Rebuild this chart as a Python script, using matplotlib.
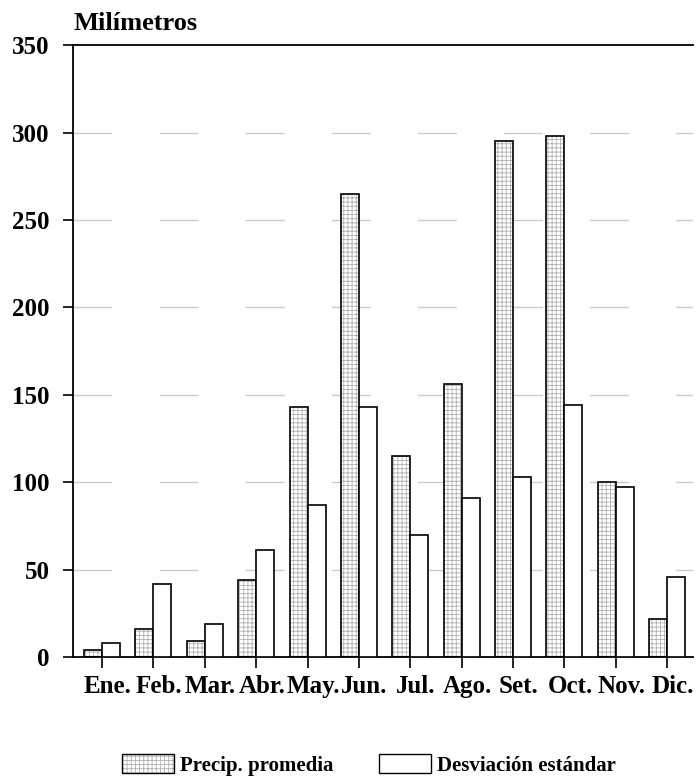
import matplotlib
matplotlib.use("Agg")
import matplotlib.pyplot as plt
import matplotlib.transforms as mtransforms
from matplotlib.patches import Patch
from matplotlib.legend_handler import HandlerTuple
import numpy as np

# data
months = ["Ene.", "Feb.", "Mar.", "Abr.", "May.", "Jun.", "Jul.", "Ago.", "Set.", "Oct.", "Nov.", "Dic."]
precip = [4, 16, 9, 44, 143, 265, 115, 156, 295, 298, 100, 22]
desv = [8, 42, 19, 61, 87, 143, 70, 91, 103, 144, 97, 46]
yticks = [0, 50, 100, 150, 200, 250, 300, 350]

plt.rcParams["font.family"] = ["Liberation Serif", "DejaVu Serif"]
plt.rcParams["font.weight"] = "bold"
plt.rcParams["hatch.linewidth"] = 0.6

fig = plt.figure(figsize=(6.96, 7.78), dpi=100)
ax = fig.add_axes([0.105, 0.1555, 0.891, 0.7865])

x = np.arange(len(months))
w = 0.35

# faint dashed grid like the scan
for v in yticks[1:-1]:
    ax.axhline(v, color="#cccccc", lw=1.0, linestyle=(0, (28, 34)), zorder=0)

# shaded bars: hatch layer, then outline on top
ax.bar(x - w / 2, precip, w, facecolor="white", edgecolor="#b0b0b0", hatch="++++", lw=0, zorder=2)
ax.bar(x - w / 2, precip, w, fill=False, edgecolor="black", lw=1.2, zorder=3)
ax.bar(x + w / 2, desv, w, facecolor="white", edgecolor="black", lw=1.2, zorder=3)

ax.set_xlim(-0.564, 11.506)
ax.set_ylim(0, 350)
ax.set_yticks(yticks)
ax.set_xticks(x)
ax.set_xticklabels(months)
ax.tick_params(axis="y", direction="out", length=7, width=1.2, labelsize=18, pad=10)
ax.tick_params(axis="x", direction="out", length=8, width=1.2, labelsize=18, pad=5)
offset = mtransforms.ScaledTranslation(4 / 72, 0, fig.dpi_scale_trans)
for lab in ax.get_xticklabels():
    lab.set_transform(lab.get_transform() + offset)

for s in ["left", "bottom", "top"]:
    ax.spines[s].set_linewidth(1.3)
ax.spines["right"].set_visible(False)

fig.text(0.105, 0.955, "Milímetros", fontsize=19, fontweight="bold", ha="left", va="bottom")

h1 = (Patch(facecolor="white", edgecolor="#b0b0b0", hatch="++++", lw=0),
      Patch(fill=False, edgecolor="black", lw=1.0))
h2 = Patch(facecolor="white", edgecolor="black", lw=1.0)
fig.legend([h1, h2], ["Precip. promedia", "Desviación estándar"],
           handler_map={tuple: HandlerTuple(ndivide=1, pad=0)},
           loc="center", bbox_to_anchor=(0.53, 0.017), ncol=2, frameon=False,
           prop={"size": 15, "weight": "bold"}, handlelength=2.5, handleheight=1.0,
           columnspacing=2.2, handletextpad=0.3)

fig.savefig("out.png", dpi=100)
